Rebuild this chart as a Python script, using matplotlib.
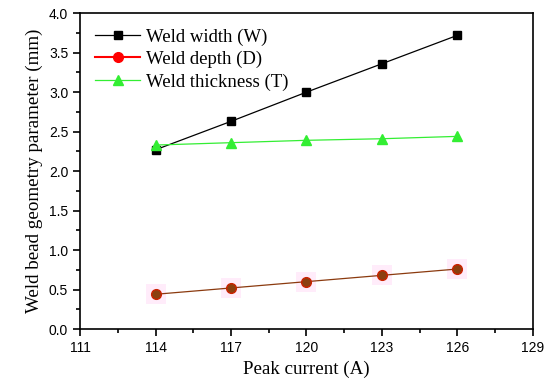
import matplotlib
matplotlib.use("Agg")
import matplotlib.pyplot as plt
from matplotlib.ticker import MultipleLocator, FormatStrFormatter
from matplotlib.lines import Line2D

# --- Data ---
peak_current = [114, 117, 120, 123, 126]
weld_width = [2.27, 2.63, 3.00, 3.36, 3.72]
weld_depth = [0.44, 0.52, 0.60, 0.68, 0.76]
weld_thickness = [2.33, 2.36, 2.39, 2.41, 2.44]

x_ticks = [111, 114, 117, 120, 123, 126, 129]
labels = ["Weld width (W)", "Weld depth (D)", "Weld thickness (T)"]

fig = plt.figure(figsize=(5.5, 3.88), dpi=100)
ax = fig.add_axes([0.1455, 0.152, 0.8235, 0.814])

# faint pink halo behind depth points
ax.plot(peak_current, weld_depth, linestyle="none", marker="s", markersize=15,
        color="#ff66dd", alpha=0.12, markeredgewidth=0)

ax.plot(peak_current, weld_width, color="black", linewidth=0.9,
        marker="s", markersize=6)
ax.plot(peak_current, weld_depth, color="#8b3a0f", linewidth=0.9,
        marker="o", markersize=7, markerfacecolor="#8b4010",
        markeredgecolor="#cc2200")
ax.plot(peak_current, weld_thickness, color="#33ee33", linewidth=0.9,
        marker="^", markersize=7, markerfacecolor="#33ee33")

ax.set_xlim(111, 129)
ax.set_ylim(0, 4.0)
ax.set_xticks(x_ticks)
ax.xaxis.set_minor_locator(MultipleLocator(1.5))
ax.yaxis.set_major_locator(MultipleLocator(0.5))
ax.yaxis.set_minor_locator(MultipleLocator(0.25))
ax.yaxis.set_major_formatter(FormatStrFormatter("%.1f"))

ax.tick_params(which="both", direction="out", top=False, right=False, width=1.2)
ax.tick_params(which="major", length=5, labelsize=10)
ax.tick_params(which="minor", length=3)
for lab in ax.get_xticklabels() + ax.get_yticklabels():
    lab.set_fontfamily("Liberation Sans")
for sp in ax.spines.values():
    sp.set_linewidth(1.2)

ax.set_xlabel("Peak current (A)", fontsize=13.7, family="Liberation Serif")
ax.set_ylabel("Weld bead geometry parameter (mm)", fontsize=13.7,
              family="Liberation Serif")

# legend handles (depth shown red in the key)
handles = [
    Line2D([], [], color="black", linewidth=0.9, marker="s", markersize=6),
    Line2D([], [], color="red", linewidth=1.5, marker="o", markersize=7),
    Line2D([], [], color="#33ee33", linewidth=0.9, marker="^", markersize=7),
]
ax.legend(handles, labels, loc="upper left", frameon=False, handlelength=2.4,
          prop={"family": "Liberation Serif", "size": 13.5},
          borderaxespad=0.4, labelspacing=0.28, handletextpad=0.3)

fig.savefig("out.png", dpi=100)
